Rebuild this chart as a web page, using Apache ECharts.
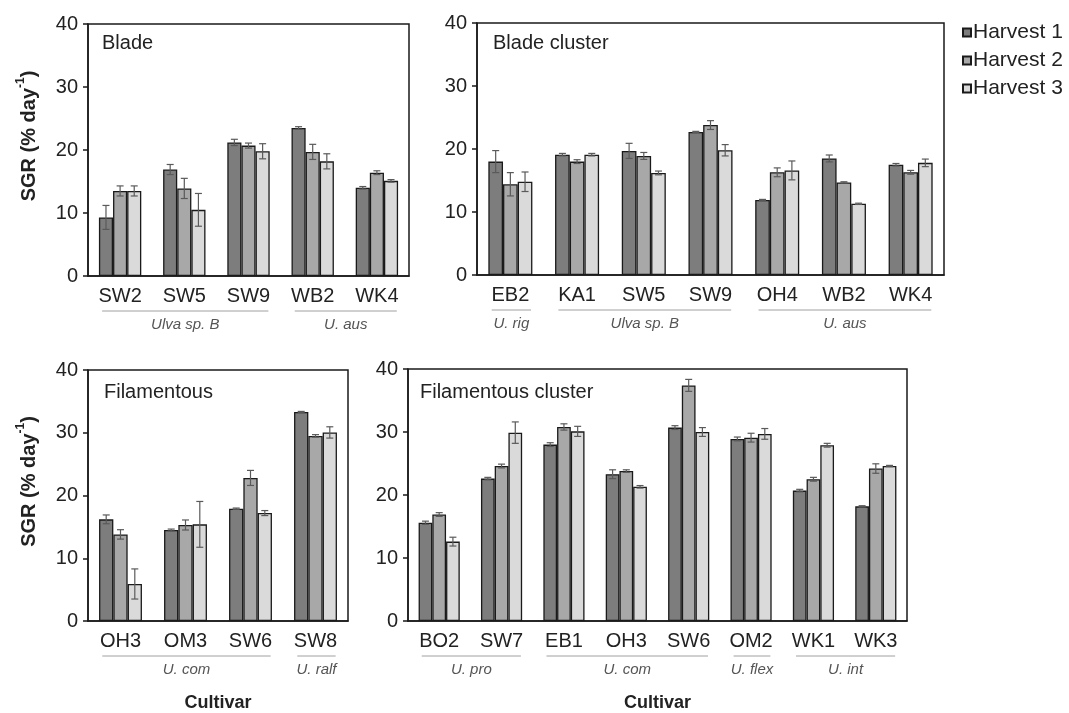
<!DOCTYPE html>
<html><head><meta charset="utf-8">
<script src="https://cdn.jsdelivr.net/npm/echarts@6/dist/echarts.min.js"></script>
<style>html,body{margin:0;padding:0;background:#fff;}#c{width:1069px;height:713px;}</style>
</head><body><div id="c"></div>
<script>
const seriesNames = ['Harvest 1', 'Harvest 2', 'Harvest 3'];
const panelTitles = ['Blade', 'Blade cluster', 'Filamentous', 'Filamentous cluster'];
const yTicks = [0, 10, 20, 30, 40];

// Panel 1: Blade
const bladeCats = ['SW2', 'SW5', 'SW9', 'WB2', 'WK4'];
const bladeH1 = [9.3, 16.9, 21.2, 23.5, 14.0];
const bladeH2 = [13.5, 13.9, 20.7, 19.7, 16.4];
const bladeH3 = [13.5, 10.5, 19.8, 18.2, 15.1];
const bladeE1 = [1.9, 0.8, 0.5, 0.2, 0.2];
const bladeE2 = [0.8, 1.6, 0.4, 1.2, 0.3];
const bladeE3 = [0.8, 2.6, 1.2, 1.2, 0.2];
const bladeGroupNames = ['Ulva sp. B', 'U. aus'];
const bladeGroupStart = [0, 3];
const bladeGroupEnd = [2, 4];

// Panel 2: Blade cluster
const bcCats = ['EB2', 'KA1', 'SW5', 'SW9', 'OH4', 'WB2', 'WK4'];
const bcH1 = [18.0, 19.1, 19.7, 22.7, 11.9, 18.5, 17.5];
const bcH2 = [14.4, 18.0, 18.9, 23.8, 16.3, 14.7, 16.3];
const bcH3 = [14.8, 19.1, 16.2, 19.8, 16.6, 11.3, 17.8];
const bcE1 = [1.75, 0.2, 1.2, 0.1, 0.1, 0.55, 0.2];
const bcE2 = [1.85, 0.3, 0.55, 0.7, 0.7, 0.1, 0.3];
const bcE3 = [1.55, 0.2, 0.3, 0.9, 1.5, 0.1, 0.6];
const bcGroupNames = ['U. rig', 'Ulva sp. B', 'U. aus'];
const bcGroupStart = [0, 1, 4];
const bcGroupEnd = [0, 3, 6];

// Panel 3: Filamentous
const filCats = ['OH3', 'OM3', 'SW6', 'SW8'];
const filH1 = [16.2, 14.5, 17.9, 33.3];
const filH2 = [13.8, 15.3, 22.8, 29.5];
const filH3 = [5.9, 15.4, 17.2, 30.05];
const filE1 = [0.7, 0.15, 0.1, 0.1];
const filE2 = [0.75, 0.8, 1.2, 0.2];
const filE3 = [2.4, 3.65, 0.4, 0.9];
const filGroupNames = ['U. com', 'U. ralf'];
const filGroupStart = [0, 3];
const filGroupEnd = [2, 3];

// Panel 4: Filamentous cluster
const fcCats = ['BO2', 'SW7', 'EB1', 'OH3', 'SW6', 'OM2', 'WK1', 'WK3'];
const fcH1 = [15.6, 22.6, 28.0, 23.3, 30.7, 28.9, 20.7, 18.2];
const fcH2 = [16.9, 24.6, 30.8, 23.8, 37.4, 29.1, 22.5, 24.2];
const fcH3 = [12.6, 29.9, 30.1, 21.3, 30.0, 29.7, 27.9, 24.6];
const fcE1 = [0.25, 0.2, 0.3, 0.7, 0.3, 0.3, 0.2, 0.1];
const fcE2 = [0.3, 0.3, 0.5, 0.2, 0.95, 0.7, 0.3, 0.75];
const fcE3 = [0.7, 1.7, 0.8, 0.2, 0.7, 0.85, 0.3, 0.1];
const fcGroupNames = ['U. pro', 'U. com', 'U. flex', 'U. int'];
const fcGroupStart = [0, 2, 5, 6];
const fcGroupEnd = [1, 4, 5, 7];

const panels = [
  {cats: bladeCats, vals: [bladeH1, bladeH2, bladeH3], errs: [bladeE1, bladeE2, bladeE3], gn: bladeGroupNames, gs: bladeGroupStart, ge: bladeGroupEnd},
  {cats: bcCats, vals: [bcH1, bcH2, bcH3], errs: [bcE1, bcE2, bcE3], gn: bcGroupNames, gs: bcGroupStart, ge: bcGroupEnd},
  {cats: filCats, vals: [filH1, filH2, filH3], errs: [filE1, filE2, filE3], gn: filGroupNames, gs: filGroupStart, ge: filGroupEnd},
  {cats: fcCats, vals: [fcH1, fcH2, fcH3], errs: [fcE1, fcE2, fcE3], gn: fcGroupNames, gs: fcGroupStart, ge: fcGroupEnd}
];

const FONT = 'Liberation Sans, Arial, sans-serif';
const colors = ['#7d7d7d', '#a8a8a8', '#dadada'];
const BAR_FRAC = 0.22;
const grids = [
  {left: 88, top: 24, width: 321, height: 252},
  {left: 477, top: 23, width: 467, height: 252},
  {left: 88, top: 370, width: 260, height: 252},
  {left: 408, top: 369, width: 499, height: 252}
];
const titlePos = [[102, 33], [493, 33], [104, 382], [420, 382]];

const xAxes = [], yAxes = [], series = [], titles = [];
panels.forEach((p, gi) => {
  xAxes.push({
    type: 'category', gridIndex: gi, data: p.cats,
    axisLine: {lineStyle: {color: '#1a1a1a', width: 1.5}},
    axisTick: {show: false},
    axisLabel: {fontSize: 20, color: '#222', fontFamily: FONT, margin: 10},
    name: gi >= 2 ? 'Cultivar' : '', nameLocation: 'middle', nameGap: 73,
    nameTextStyle: {fontSize: 18, fontWeight: 'bold', color: '#222', fontFamily: FONT}
  });
  yAxes.push({
    type: 'value', gridIndex: gi, min: 0, max: 40, interval: 10,
    axisLine: {show: true, lineStyle: {color: '#1a1a1a', width: 1.5}},
    axisTick: {show: true, length: 5, lineStyle: {color: '#1a1a1a', width: 1.5}},
    splitLine: {show: false},
    axisLabel: {fontSize: 20, color: '#222', fontFamily: FONT, margin: 10,
      formatter: v => yTicks.indexOf(v) >= 0 ? String(v) : ''},
    name: (gi % 2 === 0) ? '{a|SGR (% day}{s|-1}{a|)}' : '',
    nameLocation: 'middle', nameRotate: 90, nameGap: 49,
    nameTextStyle: {
      padding: [0, 0, 0, 28],
      rich: {
        a: {fontSize: 20, fontWeight: 'bold', color: '#222', fontFamily: FONT, lineHeight: 24, verticalAlign: 'bottom'},
        s: {fontSize: 12, fontWeight: 'bold', color: '#222', fontFamily: FONT, lineHeight: 24, verticalAlign: 'top'}
      }
    }
  });
  titles.push({text: panelTitles[gi], left: titlePos[gi][0], top: titlePos[gi][1], padding: 0,
    textStyle: {fontSize: 20, fontWeight: 'normal', color: '#222', fontFamily: FONT}});
  p.vals.forEach((vals, si) => {
    series.push({
      type: 'bar', name: seriesNames[si], xAxisIndex: gi, yAxisIndex: gi, data: vals,
      barWidth: (BAR_FRAC * 100) + '%', barGap: '0%',
      itemStyle: {color: colors[si], borderColor: '#1a1a1a', borderWidth: 1.3},
      silent: true
    });
  });
  p.vals.forEach((vals, si) => {
    const errs = p.errs[si];
    series.push({
      type: 'custom', xAxisIndex: gi, yAxisIndex: gi, silent: true, z: 10,
      data: vals.map((v, i) => [i, v, errs[i]]),
      renderItem: (params, api) => {
        const idx = api.value(0), v = api.value(1), e = api.value(2);
        const band = api.size([1, 0])[0];
        const x = api.coord([idx, v])[0] + (si - 1) * band * BAR_FRAC;
        const yT = api.coord([idx, v + e])[1], yB = api.coord([idx, v - e])[1];
        const cap = 3.5;
        const st = {stroke: '#5a5a5a', lineWidth: 1.2};
        return {type: 'group', children: [
          {type: 'line', shape: {x1: x, y1: yT, x2: x, y2: yB}, style: st},
          {type: 'line', shape: {x1: x - cap, y1: yT, x2: x + cap, y2: yT}, style: st},
          {type: 'line', shape: {x1: x - cap, y1: yB, x2: x + cap, y2: yB}, style: st}
        ]};
      }
    });
  });
  // species group lines and labels
  series.push({
    type: 'custom', xAxisIndex: gi, yAxisIndex: gi, silent: true, clip: false,
    data: p.gs.map((s, k) => [s, p.ge[k], k]),
    renderItem: (params, api) => {
      const s = api.value(0), e = api.value(1), k = api.value(2);
      const band = api.size([1, 0])[0];
      const x1 = api.coord([s, 0])[0] - band * 0.28;
      const x2 = api.coord([e, 0])[0] + band * 0.31;
      const bottom = params.coordSys.y + params.coordSys.height;
      return {type: 'group', children: [
        {type: 'line', shape: {x1: x1, y1: bottom + 35, x2: x2, y2: bottom + 35},
          style: {stroke: '#a0a0a0', lineWidth: 1}},
        {type: 'text', x: (x1 + x2) / 2, y: bottom + 49,
          style: {text: p.gn[k], fill: '#555', font: 'italic 15px ' + FONT, align: 'center', verticalAlign: 'middle'}}
      ]};
    }
  });
});

const chart = echarts.init(document.getElementById('c'), null, {renderer: 'canvas'});
chart.setOption({
  backgroundColor: '#fff',
  animation: false,
  title: titles,
  legend: {
    data: seriesNames, orient: 'vertical', left: 962, top: 21, itemGap: 5, padding: 0,
    itemWidth: 8, itemHeight: 8, icon: 'rect',
    textStyle: {fontSize: 21, color: '#222', fontFamily: FONT, padding: [0, 0, 0, -3], lineHeight: 23},
    selectedMode: false
  },
  grid: grids.map(g => Object.assign({show: true, borderColor: '#1a1a1a', borderWidth: 1.5, backgroundColor: 'transparent', containLabel: false}, g)),
  xAxis: xAxes,
  yAxis: yAxes,
  series: series
});
</script></body></html>
